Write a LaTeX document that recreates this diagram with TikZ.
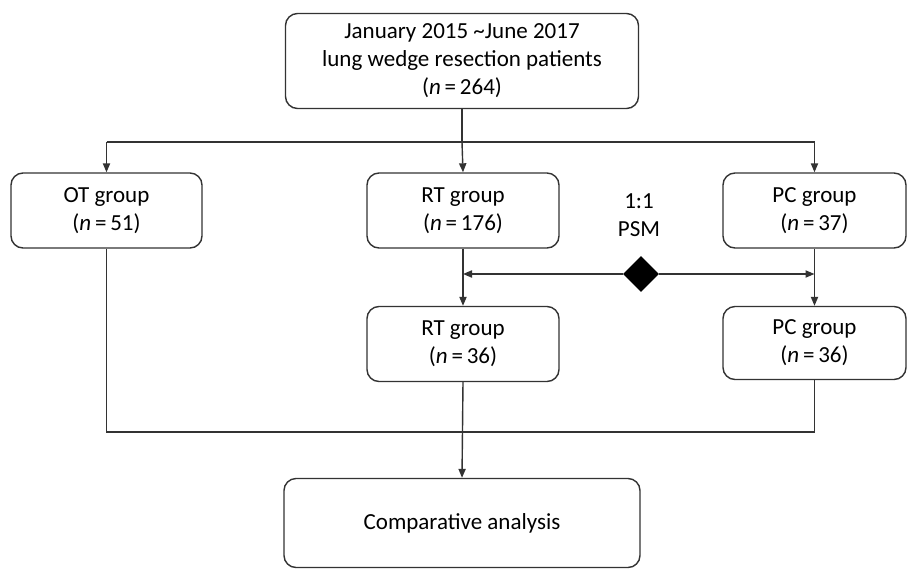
\documentclass[tikz,border=0pt]{standalone}
\usepackage{fontspec}
\setmainfont{Carlito}
\usetikzlibrary{arrows.meta, shapes.geometric}

\begin{document}
\begin{tikzpicture}[x=0.5pt,y=-0.5pt,>={Triangle[length=4.5pt,width=3.6pt]}]

% Stili per i riquadri e le linee
\tikzset{groupbox/.style={draw=black!80, line width=0.7pt, rounded corners=6pt,
    align=center, inner sep=0pt, font=\fontsize{11.5}{14}\selectfont},
  link/.style={draw=black!80, line width=0.7pt}}

\useasboundingbox (0,0) rectangle (907,569);

% --- Riquadro iniziale ---
\node[groupbox, minimum width=176.5pt, minimum height=47.5pt] (start) at (462,61)
  {January 2015 \textasciitilde June 2017\\lung wedge resection patients\\(\textit{n}\,=\,264)};

% --- Gruppi ---
\node[groupbox, minimum width=95.5pt, minimum height=37.5pt] (ot) at (106.5,210.5)
  {OT group\\(\textit{n}\,=\,51)};
\node[groupbox, minimum width=96pt, minimum height=37.5pt] (rt) at (463,210.5)
  {RT group\\(\textit{n}\,=\,176)};
\node[groupbox, minimum width=91.5pt, minimum height=37.5pt] (pc) at (814.5,210.5)
  {PC group\\(\textit{n}\,=\,37)};

% Dopo l'appaiamento
\node[groupbox, minimum width=96pt, minimum height=37.5pt] (rtm) at (463,344)
  {RT group\\(\textit{n}\,=\,36)};
\node[groupbox, minimum width=91.5pt, minimum height=36.5pt] (pcm) at (814.5,343)
  {PC group\\(\textit{n}\,=\,36)};

% PSM
\node[align=center, font=\fontsize{11.5}{14}\selectfont] (psmtext) at (639,215) {1:1\\PSM};
\node[diamond, fill=black, inner sep=0pt, minimum size=18pt] (psm) at (641,274) {};

% Analisi finale
\node[groupbox, minimum width=178pt, minimum height=44.5pt] (result) at (462,523)
  {Comparative analysis};

% --- Collegamenti ---
\coordinate (split) at (462,142);
\coordinate (join) at (462,432);

\draw[link] (start.south) -- (split);
\draw[link] (ot.north |- split) -- (pc.north |- split);
\draw[link,->] (split) -- (rt.north);
\draw[link,->] (ot.north |- split) -- (ot.north);
\draw[link,->] (pc.north |- split) -- (pc.north);

\draw[link,->] (rt.south) -- (rtm.north);
\draw[link,->] (pc.south) -- (pcm.north);
\draw[link,->] (psm.west) -- (rt.south |- psm.west);
\draw[link,->] (psm.east) -- (pc.south |- psm.east);

\draw[link] (ot.south) -- (ot.south |- join) -- (pcm.south |- join) -- (pcm.south);
\draw[link,->] (rtm.south) -- (result.north);

\end{tikzpicture}
\end{document}
